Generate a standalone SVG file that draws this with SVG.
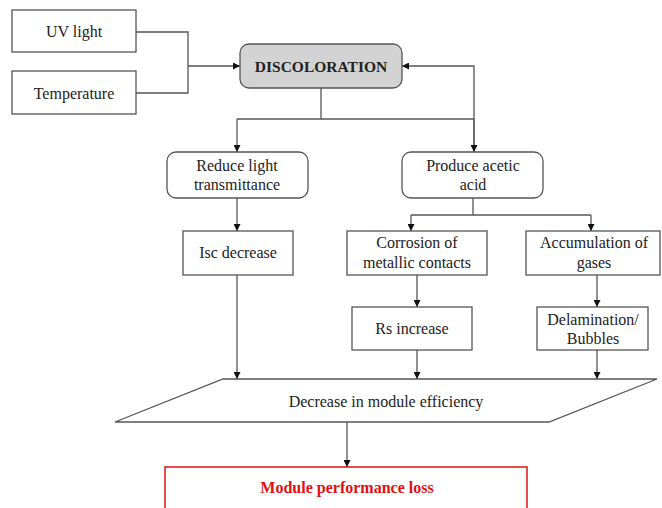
<svg xmlns="http://www.w3.org/2000/svg" width="662" height="508" viewBox="0 0 662 508">
<defs>
<marker id="ah" viewBox="0 0 10 10" refX="10" refY="5" markerWidth="7" markerHeight="7" orient="auto" markerUnits="userSpaceOnUse">
<path d="M0,0 L10,5 L0,10 z" fill="#111"/>
</marker>
<style>
.box{fill:#fff;stroke:#555;stroke-width:1.3}
.t{font-family:"Liberation Serif","Times New Roman",serif;font-size:16px;fill:#222;text-anchor:middle}
.c{fill:none;stroke:#555;stroke-width:1.3}
</style>
</defs>
<rect width="662" height="508" fill="#fff"/>
<g id="connectors">
<path class="c" d="M136,32 H188 V93 H136"/>
<path class="c" d="M188,66 H240" marker-end="url(#ah)"/>
<path class="c" d="M474,152 V66 H402" marker-end="url(#ah)"/>
<path class="c" d="M321,88 V119"/>
<path class="c" d="M237,119 H474"/>
<path class="c" d="M237,119 V152" marker-end="url(#ah)"/>
<path class="c" d="M474,119 V152" marker-end="url(#ah)"/>
<path class="c" d="M237,198 V231" marker-end="url(#ah)"/>
<path class="c" d="M473,198 V215"/>
<path class="c" d="M411,215 H591"/>
<path class="c" d="M411,215 V231" marker-end="url(#ah)"/>
<path class="c" d="M591,215 V231" marker-end="url(#ah)"/>
<path class="c" d="M417,275 V307" marker-end="url(#ah)"/>
<path class="c" d="M597,275 V307" marker-end="url(#ah)"/>
<path class="c" d="M237,275 V379" marker-end="url(#ah)"/>
<path class="c" d="M417,350 V379" marker-end="url(#ah)"/>
<path class="c" d="M597,350 V379" marker-end="url(#ah)"/>
<path class="c" d="M347,422 V467" marker-end="url(#ah)"/>
</g>
<g id="uv">
<rect class="box" x="12" y="10" width="124" height="42"/>
<text class="t" x="74" y="37">UV light</text>
</g>
<g id="temperature">
<rect class="box" x="12" y="71" width="124" height="43"/>
<text class="t" x="74" y="99">Temperature</text>
</g>
<g id="discoloration">
<rect x="240" y="44" width="162" height="44" rx="9" fill="#d3d3d3" stroke="#555" stroke-width="1.3"/>
<text class="t" x="321" y="72" style="font-weight:bold;font-size:15.5px">DISCOLORATION</text>
</g>
<g id="reduce">
<rect class="box" x="167" y="152" width="141" height="46" rx="9"/>
<text class="t" x="237" y="171">Reduce light</text>
<text class="t" x="237" y="190">transmittance</text>
</g>
<g id="produce">
<rect class="box" x="402" y="152" width="141" height="46" rx="9"/>
<text class="t" x="473" y="171">Produce acetic</text>
<text class="t" x="473" y="190">acid</text>
</g>
<g id="isc">
<rect class="box" x="183" y="231" width="110" height="44"/>
<text class="t" x="238" y="258">Isc decrease</text>
</g>
<g id="corrosion">
<rect class="box" x="347" y="231" width="140" height="44"/>
<text class="t" x="417" y="248">Corrosion of</text>
<text class="t" x="417" y="268">metallic contacts</text>
</g>
<g id="accumulation">
<rect class="box" x="526" y="231" width="134" height="44"/>
<text class="t" x="594" y="248">Accumulation of</text>
<text class="t" x="594" y="268">gases</text>
</g>
<g id="rs">
<rect class="box" x="352" y="307" width="120" height="43"/>
<text class="t" x="412" y="334">Rs increase</text>
</g>
<g id="delamination">
<rect class="box" x="537" y="307" width="111" height="43"/>
<text class="t" x="593" y="325">Delamination/</text>
<text class="t" x="593" y="344">Bubbles</text>
</g>
<g id="efficiency">
<polygon class="box" points="223,379 657,379 549,422 115,422"/>
<text class="t" x="386" y="407">Decrease in module efficiency</text>
</g>
<g id="loss">
<rect x="165" y="467" width="362" height="50" fill="#fff" stroke="#e02020" stroke-width="1.6"/>
<text class="t" x="347" y="493" style="font-weight:bold;fill:#e01010">Module performance loss</text>
</g>
</svg>
